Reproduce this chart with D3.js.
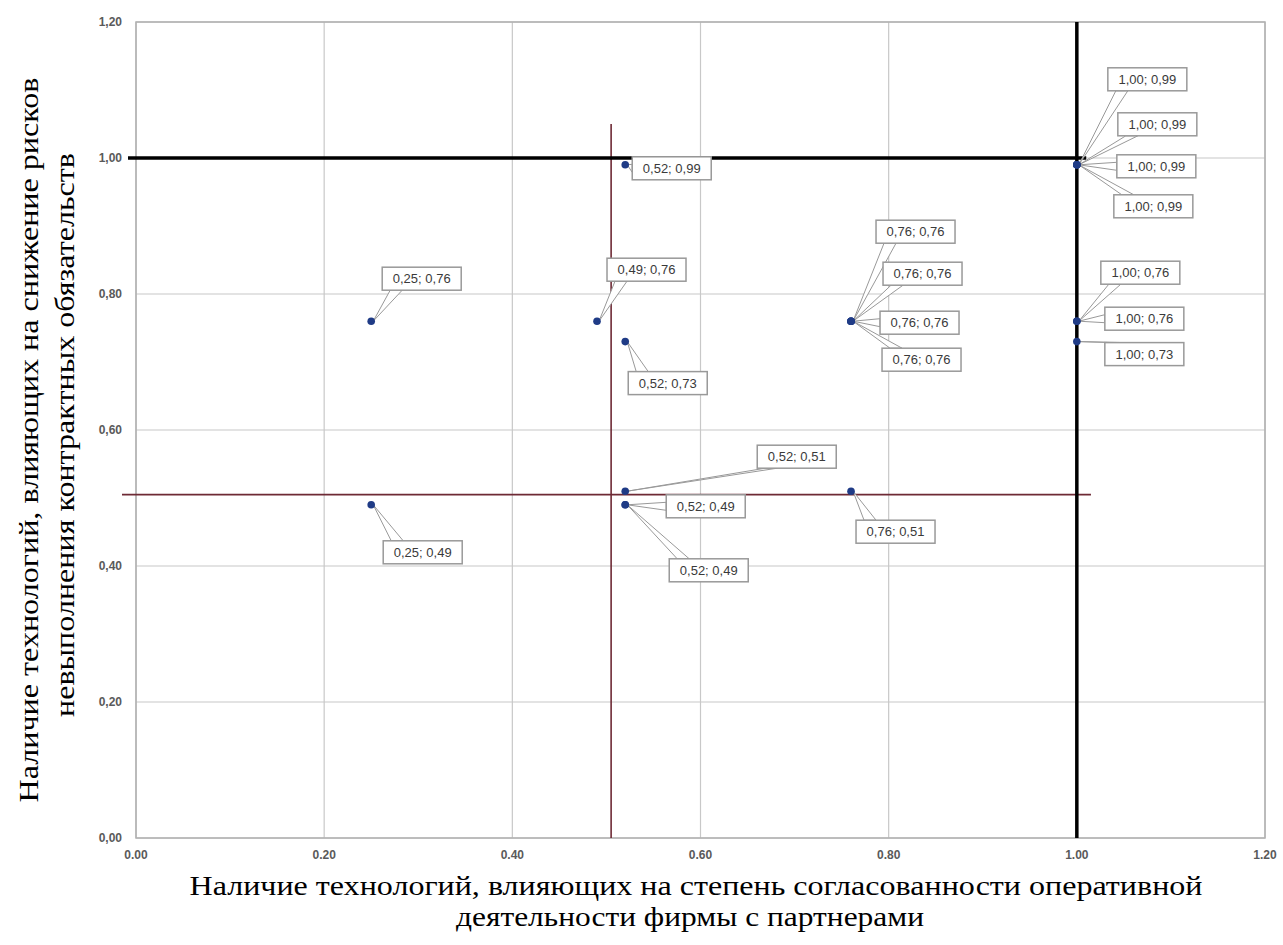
<!DOCTYPE html>
<html><head><meta charset="utf-8">
<script src="https://cdnjs.cloudflare.com/ajax/libs/d3/7.8.5/d3.min.js"></script>
<style>body{margin:0;background:#fff}svg{display:block}</style>
</head><body>
<svg id="c" width="1283" height="945"></svg>
<script>
// ---- data ----
const xValues = [0.25, 0.25, 0.49, 0.52, 0.52, 0.52, 0.52, 0.52, 0.76, 0.76, 0.76, 0.76, 0.76, 1.00, 1.00, 1.00, 1.00, 1.00, 1.00, 1.00];
const yValues = [0.76, 0.49, 0.76, 0.99, 0.73, 0.51, 0.49, 0.49, 0.76, 0.76, 0.76, 0.76, 0.51, 0.99, 0.99, 0.99, 0.99, 0.76, 0.76, 0.73];
const xTicks = [0, 0.2, 0.4, 0.6, 0.8, 1.0, 1.2];
const yTicks = [0, 0.2, 0.4, 0.6, 0.8, 1.0, 1.2];
const xTickLabels = ["0.00", "0.20", "0.40", "0.60", "0.80", "1.00", "1.20"];
const yTickLabels = ["0,00", "0,20", "0,40", "0,60", "0,80", "1,00", "1,20"];
const blackLineX = 1.00, blackLineY = 1.00;
const redLineX = 0.505, redLineY = 0.505;
const xTitle = ["Наличие технологий, влияющих на степень согласованности оперативной", "деятельности фирмы с партнерами"];
const yTitle = ["Наличие технологий, влияющих на снижение рисков", "невыполнения контрактных обязательств"];

// ---- layout (label box offsets in px, relative to point) ----
const labelOffsets = [[11,-54],[12,36],[10,-63],[7,-8],[3,30],[132,-46],[41,-10],[44,54],
  [25,-101],[32,-59],[29,-10],[31,27],[5,29],[31,-97],[41,-52],[40,-10],[37,30],[24,-60],[28,-14],[28,1]];

const svg = d3.select("#c");
const x = d3.scaleLinear().domain([0, 1.2]).range([136, 1265]);
const y = d3.scaleLinear().domain([0, 1.2]).range([838, 22]);

const fmt = v => d3.format(".2f")(v).replace(".", ",");

// grid
const g = svg.append("g");
g.selectAll(".vg").data(xTicks).enter().append("line")
  .attr("x1", d => x(d)).attr("x2", d => x(d)).attr("y1", y(1.2)).attr("y2", y(0))
  .attr("stroke", "#c8c8c8").attr("stroke-width", 1.2);
g.selectAll(".hg").data(yTicks).enter().append("line")
  .attr("x1", x(0)).attr("x2", x(1.2)).attr("y1", d => y(d)).attr("y2", d => y(d))
  .attr("stroke", "#c8c8c8").attr("stroke-width", 1.2);
g.append("rect").attr("x", x(0)).attr("y", y(1.2)).attr("width", x(1.2) - x(0)).attr("height", y(0) - y(1.2))
  .attr("fill", "none").attr("stroke", "#b0b0b0").attr("stroke-width", 1.5);

// tick labels
svg.selectAll(".xt").data(xTicks).enter().append("text")
  .attr("x", d => x(d)).attr("y", 859).attr("text-anchor", "middle")
  .attr("font-family", "Liberation Sans, Arial, sans-serif").attr("font-size", 12).attr("font-weight", "bold")
  .attr("fill", "#5a5a5a").text((d, i) => xTickLabels[i]);
svg.selectAll(".yt").data(yTicks).enter().append("text")
  .attr("x", 122).attr("y", d => y(d)).attr("dy", "0.35em").attr("text-anchor", "end")
  .attr("font-family", "Liberation Sans, Arial, sans-serif").attr("font-size", 12).attr("font-weight", "bold")
  .attr("fill", "#5a5a5a").text((d, i) => yTickLabels[i]);

// red/brown quadrant lines
svg.append("line").attr("x1", x(redLineX)).attr("x2", x(redLineX)).attr("y1", y(1.05)).attr("y2", y(0))
  .attr("stroke", "#6e2a35").attr("stroke-width", 1.6);
svg.append("line").attr("x1", 122).attr("x2", x(1.015)).attr("y1", y(redLineY)).attr("y2", y(redLineY))
  .attr("stroke", "#6e2a35").attr("stroke-width", 1.6);
// black lines
svg.append("line").attr("x1", 128).attr("x2", x(1.01)).attr("y1", y(blackLineY)).attr("y2", y(blackLineY))
  .attr("stroke", "#000").attr("stroke-width", 3.5);
svg.append("line").attr("x1", x(blackLineX)).attr("x2", x(blackLineX)).attr("y1", y(1.2)).attr("y2", y(0))
  .attr("stroke", "#000").attr("stroke-width", 3.5);

// callouts
const pts = xValues.map((v, i) => ({ x: v, y: yValues[i], off: labelOffsets[i] }));
const bw = 79, bh = 23;
const cg = svg.append("g");
pts.forEach(p => {
  const px = x(p.x), py = y(p.y);
  const bx = px + p.off[0], by = py + p.off[1];
  let a, b;
  if (by + bh < py) {
    a = [bx + 8, by + bh]; b = [bx + 20, by + bh];
  } else if (by > py) {
    a = [bx + 8, by]; b = [bx + 20, by];
  } else {
    a = [bx, by + bh / 2 - 4]; b = [bx, by + bh / 2 + 4];
  }
  cg.append("polygon").attr("points", [[px + 2, py], a, b].map(q => q.join(",")).join(" "))
    .attr("fill", "#fff").attr("stroke", "#999").attr("stroke-width", 1);
  cg.append("rect").attr("x", bx).attr("y", by).attr("width", bw).attr("height", bh)
    .attr("fill", "#fff").attr("stroke", "#999").attr("stroke-width", 1.5);
  cg.append("text").attr("x", bx + bw / 2).attr("y", by + bh / 2).attr("dy", "0.36em")
    .attr("text-anchor", "middle").attr("font-family", "Liberation Sans, Arial, sans-serif")
    .attr("font-size", 13).attr("fill", "#3a3a3a").text(fmt(p.x) + "; " + fmt(p.y));
});

// points
svg.selectAll(".pt").data(pts).enter().append("circle")
  .attr("cx", d => x(d.x)).attr("cy", d => y(d.y)).attr("r", 3.8)
  .attr("fill", "#1f3b86");

// axis titles
const tf = "Liberation Serif, Times New Roman, serif";
function title(tr, txt, len) {
  svg.append("text").attr("transform", tr).attr("text-anchor", "middle")
    .attr("font-family", tf).attr("font-size", 28).attr("fill", "#000")
    .attr("textLength", len).attr("lengthAdjust", "spacingAndGlyphs").text(txt);
}
title("translate(696,895)", xTitle[0], 1013);
title("translate(690,926)", xTitle[1], 468);
title("translate(38,440) rotate(-90)", yTitle[0], 725);
title("translate(74,435) rotate(-90)", yTitle[1], 564);
</script>
</body></html>
